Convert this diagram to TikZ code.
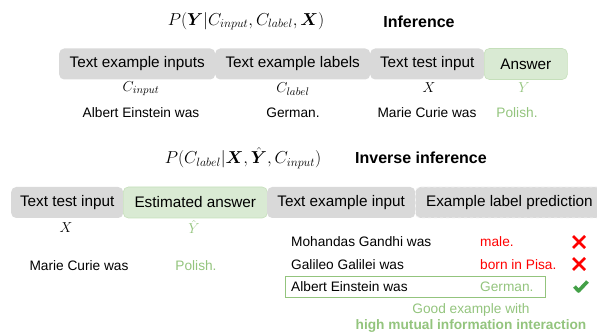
\documentclass[tikz,border=0pt]{standalone}
\usepackage{amsmath,bm}
\usepackage{fontspec}
\setmainfont{Liberation Sans}
\definecolor{boxgray}{HTML}{D9D9D9}
\definecolor{boxgreen}{HTML}{D9EAD3}
\definecolor{greenedge}{HTML}{C5DFBA}
\definecolor{softgreen}{HTML}{93C47D}
\definecolor{wrongred}{HTML}{FF0000}
\definecolor{tickgreen}{HTML}{43A047}
\begin{document}
\begin{tikzpicture}[x=1pt,y=-1pt,
  seg/.style={fill=boxgray, rounded corners=5pt, inner sep=0pt,
    minimum height=31pt, anchor=west, font=\fontsize{15.3}{18}\selectfont},
  seggreen/.style={seg, fill=boxgreen, draw=greenedge, line width=0.6pt},
  segdash/.style={seg, draw=white!70!boxgray, dashed, line width=0.8pt},
  formula/.style={inner sep=0pt, font=\fontsize{17}{20}\selectfont},
  heading/.style={inner sep=0pt, font=\fontsize{16}{19}\selectfont\bfseries},
  sym/.style={inner sep=0pt, font=\fontsize{15}{18}\selectfont},
  txt/.style={inner sep=0pt, font=\fontsize{13.7}{16}\selectfont},
  txtw/.style={txt, anchor=west},
  cross/.style={draw=wrongred, line width=2.6pt},
  tick/.style={draw=tickgreen, line width=3.6pt, line join=round}]
\useasboundingbox (0,0) rectangle (597,336);

% ---- Inference ----
\node[formula] (f1) at (246,21) {$P(\bm{Y}|C_{input},C_{label},\bm{X})$};
\node[heading] (h1) at (419,22) {Inference};

\node[seg, minimum width=156pt] (a1) at (59,64) {Text example inputs};
\node[seg, minimum width=155pt] (a2) at (215,64) {Text example labels};
\node[seg, minimum width=114pt] (a3) at (370,64) {Text test input};
\node[seggreen, minimum width=83pt] (a4) at (484,64) {Answer};

\node[sym] (s1) at (141,89) {$C_{input}$};
\node[sym] (s2) at (293,89) {$C_{label}$};
\node[sym] (s3) at (429,88) {$X$};
\node[sym, text=softgreen] (s4) at (524,88) {$Y$};

\node[txt] (t1) at (141,113) {Albert Einstein was};
\node[txt] (t2) at (293,113) {German.};
\node[txt] (t3) at (427,113) {Marie Curie was};
\node[txt, text=softgreen] (t4) at (517,113) {Polish.};

% ---- Inverse inference ----
\node[formula] (f2) at (243,158) {$P(C_{label}|\bm{X},\hat{\bm{Y}},C_{input})$};
\node[heading] (h2) at (421,158) {Inverse inference};

\node[seg, minimum width=112pt] (b1) at (11,202.5) {Text test input};
\node[seggreen, minimum width=144pt] (b2) at (123,202.5) {Estimated answer};
\node[seg, minimum width=148pt] (b3) at (267,202.5) {Text example input};
\node[segdash, minimum width=188pt] (b4) at (415,202.5) {Example label prediction};

\node[sym] (r1) at (66,228) {$X$};
\node[sym, text=softgreen] (r2) at (194,227) {$\hat{Y}$};

\node[txt] (u1) at (79,266) {Marie Curie was};
\node[txt, text=softgreen] (u2) at (196,266) {Polish.};

% candidate demonstrations
\node[txtw] (e1) at (291,242) {Mohandas Gandhi was};
\node[txtw, text=wrongred] (p1) at (480,242) {male.};
\node[txtw] (e2) at (291,265) {Galileo Galilei was};
\node[txtw, text=wrongred] (p2) at (480,265) {born in Pisa.};
\node[txtw] (e3) at (291,287) {Albert Einstein was};
\node[txtw, text=softgreen] (p3) at (480,287) {German.};
\node[draw=softgreen, line width=1.2pt, inner sep=0pt,
      minimum width=260pt, minimum height=21pt, anchor=west] (good) at (285,287) {};

% marks
\coordinate (m1) at (579,242);
\coordinate (m2) at (579,264);
\draw[cross] ([shift={(-6,-6)}]m1) -- ([shift={(6,6)}]m1)
             ([shift={(-6,6)}]m1) -- ([shift={(6,-6)}]m1);
\draw[cross] ([shift={(-6,-6)}]m2) -- ([shift={(6,6)}]m2)
             ([shift={(-6,6)}]m2) -- ([shift={(6,-6)}]m2);
\coordinate (k1) at (574.5,286.5);
\coordinate (k2) at (578.5,291);
\coordinate (k3) at (587.5,281.5);
\draw[tick] (k1) -- (k2) -- (k3);

\node[txt, text=softgreen] (n1) at (471,310) {Good example with};
\node[txt, text=softgreen, font=\fontsize{13.7}{16}\selectfont\bfseries] (n2) at (471,326) {high mutual information interaction};
\end{tikzpicture}
\end{document}
